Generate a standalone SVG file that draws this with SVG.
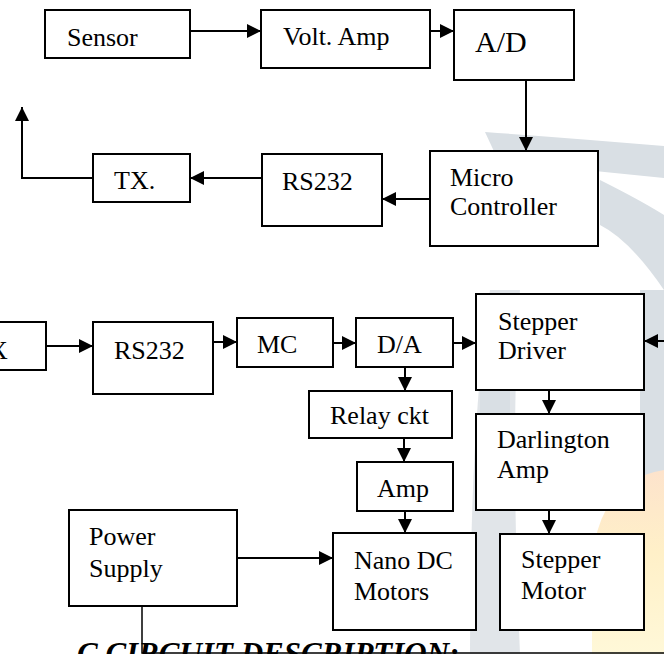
<svg xmlns="http://www.w3.org/2000/svg" width="664" height="654" viewBox="0 0 664 654">
<defs>
<marker id="ah" markerUnits="userSpaceOnUse" markerWidth="15" markerHeight="15" refX="14" refY="7" orient="auto">
<path d="M0,0 L14,7 L0,14 Z" fill="#000"/>
</marker>
<linearGradient id="og" x1="0" y1="0" x2="0" y2="1">
<stop offset="0" stop-color="#fde3cc"/>
<stop offset="0.45" stop-color="#fff0c8"/>
<stop offset="1" stop-color="#fff8d8"/>
</linearGradient>
</defs>
<style>
.box{fill:#fff;stroke:#000;stroke-width:2}
.t{font-family:"Liberation Serif","Times New Roman",serif;font-size:26px;fill:#000}
.c{fill:none;stroke:#000;stroke-width:2;marker-end:url(#ah)}
.wm{fill:#d9dfe4}
</style>
<rect width="664" height="654" fill="#fff"/>
<g id="watermark">
<path class="wm" d="M485,132 Q570,138 664,146 L664,178 Q580,170 498,160 Z"/>
<path class="wm" d="M490,290 Q470,420 470,654 L520,654 Q510,430 520,290 Z" opacity="0.8"/>
<path class="wm" d="M600,180 Q640,200 664,215 L664,290 Q630,240 600,225 Z"/>
<path class="wm" d="M640,290 L664,290 L664,500 L640,500 Z"/>
<path class="wm" d="M480,385 L510,385 L510,415 L480,415 Z"/>
<path d="M664,470 Q600,480 592,560 L592,654 L664,654 Z" fill="url(#og)"/>
</g>
<g id="connectors">
<line class="c" x1="190" y1="31" x2="261" y2="31"/>
<line class="c" x1="430" y1="31" x2="454" y2="31"/>
<line class="c" x1="526" y1="80" x2="526" y2="151"/>
<line class="c" x1="430" y1="199" x2="382" y2="199"/>
<line class="c" x1="262" y1="178" x2="190" y2="178"/>
<polyline class="c" points="93,178 22,178 22,107"/>
<line class="c" x1="46" y1="346" x2="93" y2="346"/>
<line class="c" x1="213" y1="342" x2="237" y2="342"/>
<line class="c" x1="333" y1="343" x2="356" y2="343"/>
<line class="c" x1="453" y1="343" x2="476" y2="343"/>
<line class="c" x1="664" y1="341" x2="644" y2="341"/>
<line class="c" x1="405" y1="367" x2="405" y2="391"/>
<line class="c" x1="549" y1="390" x2="549" y2="414"/>
<line class="c" x1="404" y1="438" x2="404" y2="462"/>
<line class="c" x1="405" y1="511" x2="405" y2="533"/>
<line class="c" x1="549" y1="510" x2="549" y2="534"/>
<line class="c" x1="237" y1="558" x2="333" y2="558"/>
<polyline points="142,606 142,653 664,653" fill="none" stroke="#000" stroke-width="1.5"/>
</g>
<g id="sensor"><rect class="box" x="45" y="10" width="145" height="48"/><text class="t" x="67" y="46">Sensor</text></g>
<g id="volt-amp"><rect class="box" x="261" y="10" width="169" height="58"/><text class="t" x="283" y="45">Volt. Amp</text></g>
<g id="ad"><rect class="box" x="454" y="10" width="120" height="70"/><text class="t" x="475" y="52" style="font-size:30px">A/D</text></g>
<g id="micro"><rect class="box" x="430" y="151" width="168" height="95"/><text class="t" x="450" y="186">Micro</text><text class="t" x="450" y="215">Controller</text></g>
<g id="rs232-top"><rect class="box" x="262" y="154" width="120" height="72"/><text class="t" x="282" y="190">RS232</text></g>
<g id="tx"><rect class="box" x="93" y="154" width="97" height="48"/><text class="t" x="114" y="189">TX.</text></g>
<g id="rx"><rect class="box" x="-20" y="322" width="66" height="48"/><text class="t" x="-11" y="359">X</text></g>
<g id="rs232-bottom"><rect class="box" x="93" y="322" width="120" height="72"/><text class="t" x="114" y="359">RS232</text></g>
<g id="mc"><rect class="box" x="237" y="318" width="96" height="49"/><text class="t" x="257" y="353">MC</text></g>
<g id="da"><rect class="box" x="356" y="318" width="97" height="49"/><text class="t" x="377" y="353">D/A</text></g>
<g id="stepper-driver"><rect class="box" x="476" y="294" width="168" height="96"/><text class="t" x="498" y="330">Stepper</text><text class="t" x="498" y="359">Driver</text></g>
<g id="relay"><rect class="box" x="309" y="391" width="143" height="47"/><text class="t" x="330" y="424">Relay ckt</text></g>
<g id="darlington"><rect class="box" x="476" y="414" width="168" height="96"/><text class="t" x="497" y="448">Darlington</text><text class="t" x="497" y="478">Amp</text></g>
<g id="amp"><rect class="box" x="357" y="462" width="96" height="49"/><text class="t" x="377" y="497">Amp</text></g>
<g id="power"><rect class="box" x="69" y="510" width="168" height="96"/><text class="t" x="89" y="545">Power</text><text class="t" x="89" y="577">Supply</text></g>
<g id="nano"><rect class="box" x="333" y="533" width="143" height="97"/><text class="t" x="354" y="569">Nano DC</text><text class="t" x="354" y="600">Motors</text></g>
<g id="stepper-motor"><rect class="box" x="500" y="534" width="144" height="96"/><text class="t" x="521" y="568">Stepper</text><text class="t" x="521" y="599">Motor</text></g>
<text x="77" y="664" style="font-family:'Liberation Serif','Times New Roman',serif;font-size:31px;font-weight:bold;font-style:italic;fill:#000">C.CIRCUIT DESCRIPTION:</text>
</svg>
